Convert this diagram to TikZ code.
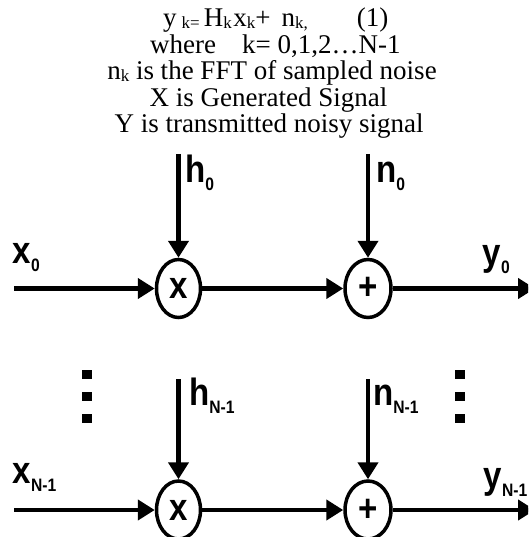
\documentclass[tikz,border=0pt]{standalone}
\usepackage{fontspec}
\setmainfont{Liberation Serif}
\newfontfamily\labfont[FakeStretch=0.87]{Liberation Sans}
\usetikzlibrary{arrows.meta,shapes.geometric}

\newcommand{\tsub}[1]{\raisebox{-2pt}{\fontsize{17}{17}\selectfont #1}}
\newcommand{\biglbl}[2]{{\labfont\bfseries\fontsize{38}{38}\selectfont #1\raisebox{-8pt}{\fontsize{18}{18}\selectfont #2}}}

\begin{document}
\begin{tikzpicture}[x=1pt,y=-1pt,
  wire/.style={line width=4.5pt, -{Triangle[length=17pt,width=20pt]}},
  op/.style={draw, line width=3.5pt, ellipse, inner sep=0pt, minimum width=44pt, minimum height=58pt, font=\labfont\bfseries\fontsize{38}{38}\selectfont},
  lbl/.style={anchor=base west, inner sep=0pt},
  txt/.style={inner sep=0pt, font=\fontsize{27}{27}\selectfont},
  dotsq/.style={fill=black, minimum width=10pt, minimum height=9pt, inner sep=0pt}
]
\useasboundingbox (0,0) rectangle (528,537);
\clip (0,0) rectangle (528,537);

% header text
\node[txt, anchor=base west] (t1) at (163,27) {y\hspace{5pt}\tsub{k=}\hspace{4pt}H\tsub{k}\hspace{1.5pt}x\tsub{k}+\hspace{11pt}n\tsub{k,}\hspace{49pt}(1)};
\node[txt, anchor=base west] (t2) at (150,53.5) {where\hspace{26pt}k= 0,1,2…N-1};
\node[txt, anchor=base] (t3) at (272,80) {n\tsub{k} is the FFT of sampled noise};
\node[txt, anchor=base] (t4) at (268.5,106.5) {X is Generated Signal};
\node[txt, anchor=base] (t5) at (269,133) {Y is transmitted noisy signal};

% operators
\node[op] (m0) at (178.5,288.5) {x};
\node[op, minimum width=46pt] (a0) at (368,288.5) {+};
\node[op] (m1) at (178.5,510) {x};
\node[op, minimum width=46pt] (a1) at (368,510) {+};

% free ends
\coordinate (in0) at (14,288.5);
\coordinate (out0) at (535,288.5);
\coordinate (h0t) at (178.5,154);
\coordinate (n0t) at (368,154);
\coordinate (in1) at (14,510);
\coordinate (out1) at (535,510);
\coordinate (h1t) at (178.5,379);
\coordinate (n1t) at (368,379);

% connectors
\draw[wire] (in0) -- (m0);
\draw[wire] (m0) -- (a0);
\draw[wire] (a0) -- (out0);
\draw[wire] (h0t) -- (m0);
\draw[wire] (n0t) -- (a0);
\draw[wire] (in1) -- (m1);
\draw[wire] (m1) -- (a1);
\draw[wire] (a1) -- (out1);
\draw[wire] (h1t) -- (m1);
\draw[wire] (n1t) -- (a1);

% labels
\node[lbl] (lx0) at (12.5,263) {\biglbl{x}{0}};
\node[lbl] (ly0) at (482.5,265) {\biglbl{y}{0}};
\node[lbl] (lh0) at (185,183) {\biglbl{h}{0}};
\node[lbl] (ln0) at (376,183) {\biglbl{n}{0}};
\node[lbl] (lx1) at (12.5,483) {\biglbl{x}{N-1}};
\node[lbl] (ly1) at (483.5,488) {\biglbl{y}{N-1}};
\node[lbl] (lh1) at (189,405) {\biglbl{h}{N-1}};
\node[lbl] (ln1) at (373,405) {\biglbl{n}{N-1}};

% vertical dots
\node[dotsq] (dl1) at (87,374) {};
\node[dotsq] (dl2) at (87,396) {};
\node[dotsq] (dl3) at (87,418) {};
\node[dotsq] (dr1) at (460,374) {};
\node[dotsq] (dr2) at (460,396) {};
\node[dotsq] (dr3) at (460,418) {};
\end{tikzpicture}
\end{document}
